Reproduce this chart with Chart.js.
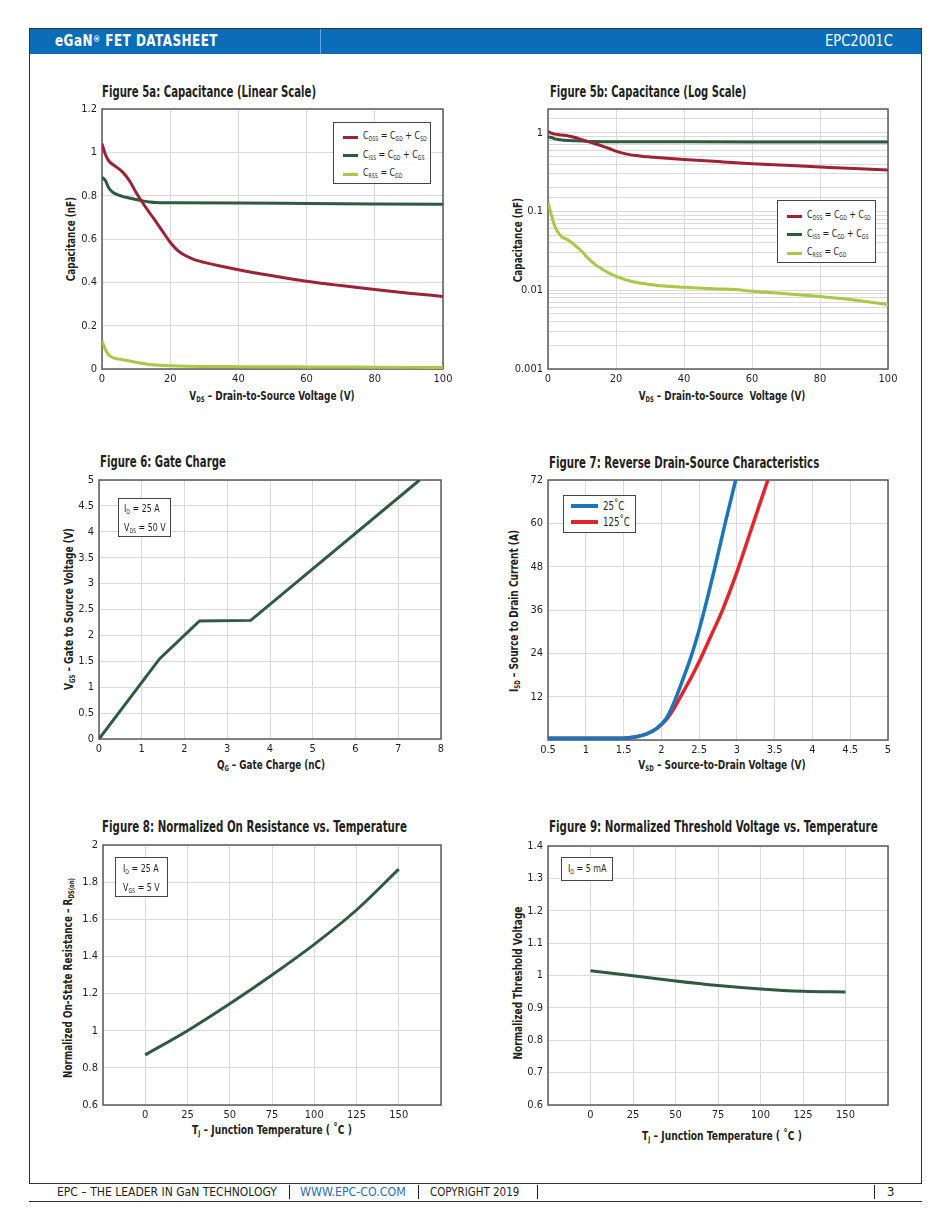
<!DOCTYPE html>
<html>
<head>
<meta charset="utf-8">
<script src="https://cdn.jsdelivr.net/npm/chart.js@4.4.1/dist/chart.umd.min.js"></script>
<style>
body { margin: 0; background: #fff; }
#page { position: relative; width: 950px; height: 1230px; overflow: hidden;
        font-family: "DejaVu Sans Condensed", "Liberation Sans", sans-serif; color: #231f20; }
.abs { position: absolute; white-space: nowrap; }
.left { transform-origin: left center; }
.title { font-weight: bold; font-size: 15px; }
.axt { font-weight: bold; font-size: 13px; transform: translate(-50%, -50%); }
.s { font-size: 0.6em; vertical-align: -0.25em; }
.box { border: 1px solid #444; background: #fff; font-size: 11px; line-height: 16px; padding: 2px 6px; box-sizing: border-box; }
.box .row { display: flex; align-items: center; }
.box .sw { display: inline-block; flex-shrink: 0; width: 15px; height: 3px; margin-right: 5px; }
.nar { display: inline-block; transform: scaleX(0.8); transform-origin: left center; }
.pipe { position: absolute; top: 1185px; width: 1px; height: 14px; background: #231f20; }
canvas { position: absolute; }
</style>
</head>
<body>
<div id="page">
  <!-- page frame, header and footer -->
  <div class="abs" style="left:29px;top:28px;width:891px;height:1154px;border:1px solid #333;"></div>
  <div class="abs" style="left:30px;top:29px;width:891px;height:25px;background:#0b6db7;"></div>
  <div class="abs" style="left:320px;top:29px;width:1px;height:25px;background:#6aa6d8;"></div>
  <div class="abs left" data-w="163" style="left:55px;top:32px;color:#fff;font-weight:bold;font-size:15px;letter-spacing:0.5px;">eGaN<span style="font-size:0.6em;vertical-align:0.5em;">®</span> FET DATASHEET</div>
  <div class="abs left" data-w="68" style="left:825px;top:32px;color:#fff;font-size:15px;">EPC2001C</div>

  <div class="abs" style="left:29px;top:1201px;width:893px;height:1px;background:#333;"></div>
  <div class="abs left" data-w="220" style="left:57px;top:1184px;font-size:13px;">EPC – THE LEADER IN GaN TECHNOLOGY</div>
  <div class="pipe" style="left:289px;"></div>
  <div class="abs left" data-w="106" style="left:300px;top:1184px;font-size:13px;color:#2a6db5;">WWW.EPC-CO.COM</div>
  <div class="pipe" style="left:418px;"></div>
  <div class="abs left" data-w="89" style="left:430px;top:1184px;font-size:13px;">COPYRIGHT 2019</div>
  <div class="pipe" style="left:537px;"></div>
  <div class="pipe" style="left:874px;"></div>
  <div class="abs" style="left:887px;top:1184px;font-size:13px;">3</div>

  <!-- figure titles -->
  <div class="abs title left" data-w="214" style="left:102px;top:83px;">Figure 5a: Capacitance (Linear Scale)</div>
  <div class="abs title left" data-w="196" style="left:550px;top:83px;">Figure 5b: Capacitance (Log Scale)</div>
  <div class="abs title left" data-w="126" style="left:100px;top:453px;">Figure 6: Gate Charge</div>
  <div class="abs title left" data-w="270" style="left:549px;top:454px;">Figure 7: Reverse Drain-Source Characteristics</div>
  <div class="abs title left" data-w="305" style="left:102px;top:818px;">Figure 8: Normalized On Resistance vs. Temperature</div>
  <div class="abs title left" data-w="329" style="left:549px;top:818px;">Figure 9: Normalized Threshold Voltage vs. Temperature</div>

  <!-- axis titles -->
  <div class="abs axt rot" data-w="84" style="left:70px;top:239px;">Capacitance (nF)</div>
  <div class="abs axt" data-w="165" style="left:272px;top:396px;">V<span class="s">DS</span> – Drain-to-Source Voltage (V)</div>
  <div class="abs axt rot" data-w="84" style="left:517px;top:240px;">Capacitance (nF)</div>
  <div class="abs axt" data-w="167" style="left:722px;top:396px;">V<span class="s">DS</span> – Drain-to-Source&nbsp; Voltage (V)</div>
  <div class="abs axt rot" data-w="162" style="left:69px;top:609px;">V<span class="s">GS</span> – Gate to Source Voltage (V)</div>
  <div class="abs axt" data-w="108" style="left:271px;top:765px;">Q<span class="s">G</span> – Gate Charge (nC)</div>
  <div class="abs axt rot" data-w="162" style="left:514px;top:611px;">I<span class="s">SD</span> – Source to Drain Current (A)</div>
  <div class="abs axt" data-w="167" style="left:722px;top:765px;">V<span class="s">SD</span> – Source-to-Drain Voltage (V)</div>
  <div class="abs axt rot" data-w="200" style="left:68px;top:978px;">Normalized On-State Resistance – R<span class="s">DS(on)</span></div>
  <div class="abs axt" data-w="160" style="left:272px;top:1130px;">T<span class="s">J</span> – Junction Temperature ( ˚C )</div>
  <div class="abs axt rot" data-w="153" style="left:517px;top:983px;">Normalized Threshold Voltage</div>
  <div class="abs axt" data-w="160" style="left:722px;top:1136px;">T<span class="s">J</span> – Junction Temperature ( ˚C )</div>

  <canvas id="c5a"></canvas>
  <canvas id="c5b"></canvas>
  <canvas id="c6"></canvas>
  <canvas id="c7"></canvas>
  <canvas id="c8"></canvas>
  <canvas id="c9"></canvas>

  <!-- legends and condition boxes (legend rows filled from the data below) -->
  <div id="leg5a" class="abs box" style="left:333px;top:122px;width:98px;height:62px;padding:5px 0 0 9px;"></div>
  <div id="leg5b" class="abs box" style="left:777px;top:200px;width:99px;height:63px;padding:6px 0 0 9px;"></div>
  <div id="leg7" class="abs box" style="left:563px;top:495px;width:73px;height:38px;padding:2px 0 0 7px;font-size:12px;"></div>
  <div class="abs box" style="left:118px;top:498px;width:53px;height:39px;padding:2px 5px;"><span class="nar">I<span class="s">D</span> = 25 A<br>V<span class="s">DS</span> = 50 V</span></div>
  <div class="abs box" style="left:115px;top:857px;width:53px;height:40px;padding:3px 7px;"><span class="nar">I<span class="s">D</span> = 25 A<br>V<span class="s">GS</span> = 5 V</span></div>
  <div class="abs box" style="left:561px;top:857px;width:52px;height:24px;line-height:18px;padding:2px 6px;"><span class="nar">I<span class="s">D</span> = 5 mA</span></div>
</div>

<script>
// ---- data ----
// Figure 5: capacitances vs V_DS (nF), same data for linear and log plots
const cossV = [0, 1, 2, 4, 6, 8, 10, 12, 14, 16, 18, 20, 22, 24, 26, 28, 30, 35, 40, 50, 60, 70, 80, 90, 100];
const cossC = [1.04, 0.99, 0.96, 0.935, 0.91, 0.87, 0.815, 0.765, 0.72, 0.676, 0.63, 0.585, 0.55, 0.527, 0.512, 0.5, 0.492, 0.474, 0.458, 0.43, 0.405, 0.385, 0.367, 0.35, 0.335];
const cissV = [0, 1, 2, 3, 4, 6, 8, 10, 12, 14, 16, 18, 20, 40, 60, 80, 100];
const cissC = [0.885, 0.87, 0.835, 0.818, 0.808, 0.797, 0.789, 0.782, 0.776, 0.771, 0.768, 0.767, 0.767, 0.766, 0.764, 0.762, 0.76];
const crssV = [0, 1, 2, 3, 4, 6, 8, 10, 12, 14, 16, 18, 20, 25, 30, 35, 40, 50, 55, 60, 70, 80, 90, 100];
const crssC = [0.13, 0.09, 0.065, 0.054, 0.048, 0.043, 0.037, 0.031, 0.025, 0.021, 0.0185, 0.0165, 0.015, 0.0128, 0.0118, 0.0112, 0.0109, 0.0104, 0.0102, 0.0097, 0.009, 0.0083, 0.0075, 0.0066];
const capNames = ['C<span class="s">OSS</span> = C<span class="s">GD</span> + C<span class="s">SD</span>',
                  'C<span class="s">ISS</span> = C<span class="s">GD</span> + C<span class="s">GS</span>',
                  'C<span class="s">RSS</span> = C<span class="s">GD</span>'];
const capColors = ['#9b2335', '#2e5a3e', '#a8c945'];

// Figure 6: gate charge
const qg = [0, 1.42, 2.35, 3.55, 7.5];
const vgs = [0, 1.55, 2.28, 2.29, 5.0];

// Figure 7: reverse conduction
const vsd25 = [0.5, 1.5, 1.67, 1.8, 1.94, 2.06, 2.16, 2.28, 2.4, 2.5, 2.6, 2.7, 2.85, 2.99];
const isd25 = [0.5, 0.5, 0.9, 1.6, 3.2, 5.8, 10, 16.5, 23.5, 30.5, 38.5, 47, 60.5, 72.5];
const vsd125 = [0.5, 1.5, 1.67, 1.8, 1.94, 2.06, 2.16, 2.26, 2.4, 2.53, 2.66, 2.8, 3.0, 3.2, 3.41];
const isd125 = [0.5, 0.5, 0.9, 1.6, 3.2, 5.5, 8.5, 12.2, 17.5, 23, 29, 35.5, 46.5, 59, 72];
const tempNames = ['25˚C', '125˚C'];
const tempColors = ['#1b75bb', '#e3242b'];

// Figures 8 and 9: normalised values vs junction temperature
const tj = [0, 25, 50, 75, 100, 125, 150];
const rdsNorm = [0.87, 1.0, 1.145, 1.3, 1.465, 1.65, 1.87];
const vthNorm = [1.015, 0.999, 0.983, 0.969, 0.958, 0.951, 0.949];
const tjTicks = [0, 25, 50, 75, 100, 125, 150];

const lineGreen = '#2e5a3e';

// ---- layout helpers ----
const PAD_L = 44, PAD_T = 10, PAD_R = 16, PAD_B = 22;
Chart.defaults.font.family = '"DejaVu Sans Condensed", "Liberation Sans", sans-serif';
Chart.defaults.font.size = 11;
Chart.defaults.color = '#231f20';

var pts = function(xs, ys) {
  return xs.map((x, i) => ({ x: x, y: ys[i] }));
};

var num = function(v) { return String(Number(v.toFixed(3))); };

// plot area rectangle on the page: [left, top, right, bottom]
var placeCanvas = function(id, area) {
  var c = document.getElementById(id);
  c.width = area[2] - area[0] + PAD_L + PAD_R;
  c.height = area[3] - area[1] + PAD_T + PAD_B;
  c.style.left = (area[0] - PAD_L) + 'px';
  c.style.top = (area[1] - PAD_T) + 'px';
  return c;
};

var frame = {
  id: 'frame',
  beforeDatasetsDraw: function(chart) {
    var a = chart.chartArea, ctx = chart.ctx;
    ctx.save();
    ctx.strokeStyle = '#5b5b5b';
    ctx.lineWidth = 1.5;
    ctx.strokeRect(a.left, a.top, a.right - a.left, a.bottom - a.top);
    ctx.restore();
  }
};

var xAxis = function(min, max, step, cb) {
  return {
    type: 'linear', min: min, max: max,
    grid: { color: '#dadada', drawTicks: false },
    border: { display: false },
    ticks: { stepSize: step, padding: 4, autoSkip: false, maxRotation: 0, callback: cb || num },
    afterFit: function(s) { s.height = PAD_B; s.paddingLeft = 0; s.paddingRight = 0; }
  };
};
var yAxis = function(min, max, step, cb, type) {
  return {
    type: type || 'linear', min: min, max: max,
    grid: { color: '#dadada', drawTicks: false },
    border: { display: false },
    ticks: { stepSize: step, padding: 5, autoSkip: false, callback: cb || num },
    afterFit: function(s) { s.width = PAD_L; s.paddingTop = 0; s.paddingBottom = 0; }
  };
};

var line = function(data, color, width) {
  return { data: data, borderColor: color, borderWidth: width || 3, pointRadius: 0,
           fill: false, cubicInterpolationMode: 'monotone' };
};

var makeChart = function(id, area, datasets, scales) {
  return new Chart(placeCanvas(id, area), {
    type: 'line',
    data: { datasets: datasets },
    options: {
      responsive: false, animation: false,
      layout: { padding: { left: 0, top: PAD_T, right: PAD_R, bottom: 0 } },
      plugins: { legend: { display: false }, tooltip: { enabled: false } },
      scales: scales
    },
    plugins: [frame]
  });
};

var fillLegend = function(id, names, colors, swW, swH) {
  var el = document.getElementById(id);
  names.forEach(function(n, i) {
    var row = document.createElement('div');
    row.className = 'row';
    row.innerHTML = '<span class="sw" style="background:' + colors[i] + ';width:' + swW + 'px;height:' + swH + 'px;"></span>' +
      '<span class="nar">' + n + '</span>';
    el.appendChild(row);
  });
};

// ---- charts ----
var capSets = function() {
  return [line(pts(cossV, cossC), capColors[0]),
          line(pts(cissV, cissC), capColors[1]),
          line(pts(crssV, crssC), capColors[2])];
};

makeChart('c5a', [102, 109, 443, 369], capSets(), {
  x: xAxis(0, 100, 20),
  y: yAxis(0, 1.2, 0.2)
});

makeChart('c5b', [548, 109, 888, 369], capSets(), {
  x: xAxis(0, 100, 20),
  y: yAxis(0.001, 2, undefined, function(v) {
    var l = Math.log10(v);
    return Math.abs(l - Math.round(l)) < 1e-6 && v <= 1 ? num(v) : '';
  }, 'logarithmic')
});

var gate = line(pts(qg, vgs), lineGreen);
gate.cubicInterpolationMode = 'default';
gate.tension = 0;
makeChart('c6', [99, 480, 441, 739], [gate], {
  x: xAxis(0, 8, 1),
  y: yAxis(0, 5, 0.5)
});

makeChart('c7', [548, 480, 888, 740], [line(pts(vsd25, isd25), tempColors[0], 3.5), line(pts(vsd125, isd125), tempColors[1], 3.5)], {
  x: xAxis(0.5, 5, 0.5),
  y: yAxis(0, 72, 12, function(v) { return v === 0 ? '' : num(v); })
});

var tjLabel = function(v) { return tjTicks.indexOf(v) >= 0 ? num(v) : ''; };

makeChart('c8', [103, 845, 441, 1105], [line(pts(tj, rdsNorm), lineGreen)], {
  x: xAxis(-25, 175, 25, tjLabel),
  y: yAxis(0.6, 2, 0.2)
});

makeChart('c9', [548, 846, 888, 1105], [line(pts(tj, vthNorm), lineGreen)], {
  x: xAxis(-25, 175, 25, tjLabel),
  y: yAxis(0.6, 1.4, 0.1)
});

fillLegend('leg5a', capNames, capColors, 15, 3);
fillLegend('leg5b', capNames, capColors, 15, 3);
fillLegend('leg7', tempNames, tempColors, 27, 4);

// squeeze text to the widths measured on the reference (stand-in for a condensed face)
document.querySelectorAll('[data-w]').forEach(function(el) {
  var k = Number(el.dataset.w) / el.offsetWidth;
  var t = '';
  if (el.classList.contains('axt')) t += 'translate(-50%, -50%) ';
  if (el.classList.contains('rot')) t += 'rotate(-90deg) ';
  el.style.transform = t + 'scaleX(' + k.toFixed(3) + ')';
});
</script>
</body>
</html>
